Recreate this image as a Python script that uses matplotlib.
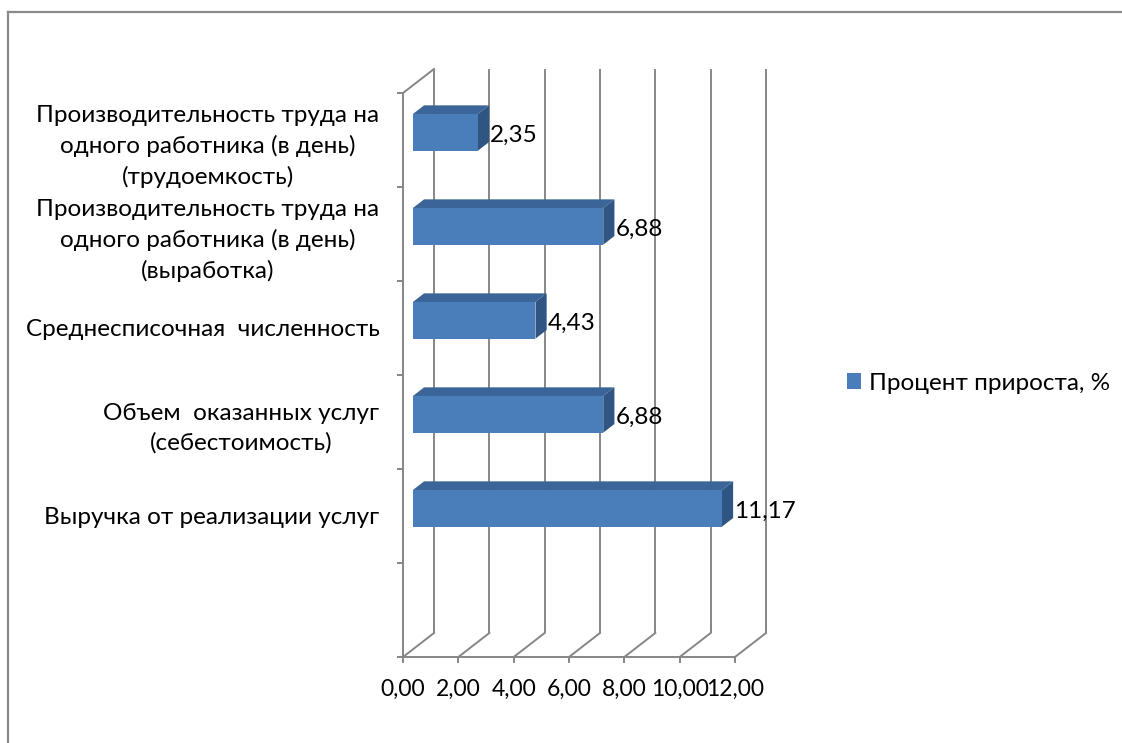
import matplotlib
matplotlib.use("Agg")
import matplotlib.pyplot as plt
from matplotlib.patches import Patch
from matplotlib.lines import Line2D

# ---- data -------------------------------------------------------------
categories = [
    "Выручка от реализации услуг",
    "Объем  оказанных услуг\n(себестоимость)",
    "Среднесписочная  численность",
    "Производительность труда на\nодного работника (в день)\n(выработка)",
    "Производительность труда на\nодного работника (в день)\n(трудоемкость)",
]
values = [11.17, 6.88, 4.43, 6.88, 2.35]
value_labels = ["11,17", "6,88", "4,43", "6,88", "2,35"]
x_ticks = [0, 2, 4, 6, 8, 10, 12]
x_tick_labels = ["0,00", "2,00", "4,00", "6,00", "8,00", "10,00", "12,00"]
series_name = "Процент прироста, %"

# ---- style ------------------------------------------------------------
FONT = "Lato"
FS = 17.5
FS_TICK = 16.5
GRID = "#868686"
FRONT = "#4a7ebb"
TOP = "#3b6598"
SIDE = "#2f5583"

plt.rcParams["font.family"] = [FONT, "DejaVu Sans"]

W, H, DPI = 1122, 743, 100
fig = plt.figure(figsize=(W / DPI, H / DPI), dpi=DPI)
ax = fig.add_axes([403 / W, 1 - 657 / H, 332 / W, 564 / H])
ax.set_xlim(0, 12)
ax.set_ylim(-1.5, 4.5)

# pixel size of one data unit, used to express the 3-D depth in data units
p0 = ax.transData.transform((0, 0))
p1 = ax.transData.transform((1, 1))
sx, sy = p1[0] - p0[0], p1[1] - p0[1]
DX, DY = 31 / sx, 24 / sy


def shift(x, y, t):
    """Point (x, y) pushed back to depth t (0 = front, 1 = back wall)."""
    return x + t * DX, y + t * DY


y_lo, y_hi = ax.get_ylim()
LW = 1.4

# back wall gridlines and floor diagonals
for v in x_ticks:
    xb, yb0 = shift(v, y_lo, 1)
    _, yb1 = shift(v, y_hi, 1)
    ax.plot([xb, xb], [yb0, yb1], color=GRID, lw=LW, zorder=1, clip_on=False,
            solid_capstyle="butt")
    ax.plot([v, xb], [y_lo, yb0], color=GRID, lw=LW, zorder=1, clip_on=False)

# left wall top edge
xt, yt = shift(0, y_hi, 1)
ax.plot([0, xt], [y_hi, yt], color=GRID, lw=LW, zorder=1, clip_on=False)

# 3-D bars
tf, tb = 0.32, 0.68
bh = 0.39
for i, v in enumerate(values):
    y0, y1 = i - bh / 2, i + bh / 2
    front = [shift(0, y0, tf), shift(v, y0, tf), shift(v, y1, tf), shift(0, y1, tf)]
    top = [shift(0, y1, tf), shift(v, y1, tf), shift(v, y1, tb), shift(0, y1, tb)]
    side = [shift(v, y0, tf), shift(v, y0, tb), shift(v, y1, tb), shift(v, y1, tf)]
    for poly, col in ((top, TOP), (side, SIDE), (front, FRONT)):
        xs, ys = zip(*poly)
        ax.fill(xs, ys, color=col, lw=0, zorder=3, clip_on=False)
    lx, ly = shift(v, i, tb)
    ax.annotate(value_labels[i], xy=(lx, i + tf * DY), xytext=(1, -3),
                textcoords="offset pixels", ha="left", va="center",
                fontsize=FS, color="#000000", zorder=4, annotation_clip=False)

# axes, ticks and category labels
for s in ("top", "right"):
    ax.spines[s].set_visible(False)
for s in ("left", "bottom"):
    ax.spines[s].set_color(GRID)
    ax.spines[s].set_linewidth(LW)
    ax.spines[s].set_zorder(2)
ax.patch.set_visible(False)

ax.set_xticks(x_ticks)
ax.set_xticklabels(x_tick_labels, fontsize=FS_TICK)
ax.set_yticks([-1.5, -0.5, 0.5, 1.5, 2.5, 3.5, 4.5])
ax.set_yticklabels([])
ax.set_yticks(range(len(categories)), minor=True)
ax.set_yticklabels(categories, minor=True, fontsize=FS, multialignment="center",
                   linespacing=1.5)
ax.tick_params(axis="both", which="major", direction="out", length=4.5,
               width=LW, color=GRID)
ax.tick_params(axis="x", which="major", pad=11)
ax.tick_params(axis="y", which="minor", length=0, pad=17)

# legend
fig.legend(handles=[Patch(facecolor=FRONT, edgecolor="none")], labels=[series_name],
           loc="center left", bbox_to_anchor=(837 / W, 1 - 383 / H),
           frameon=False, fontsize=FS, handlelength=0.6, handleheight=0.6,
           handletextpad=0.3, borderaxespad=0)

# chart area border
fig.add_artist(Line2D([8 / W, 8 / W], [0, 1 - 12 / H], transform=fig.transFigure,
                      color="#8a8a8a", lw=1.6))
fig.add_artist(Line2D([8 / W, 1], [1 - 12 / H, 1 - 12 / H], transform=fig.transFigure,
                      color="#8a8a8a", lw=1.6))

fig.savefig("out.png", dpi=DPI)
